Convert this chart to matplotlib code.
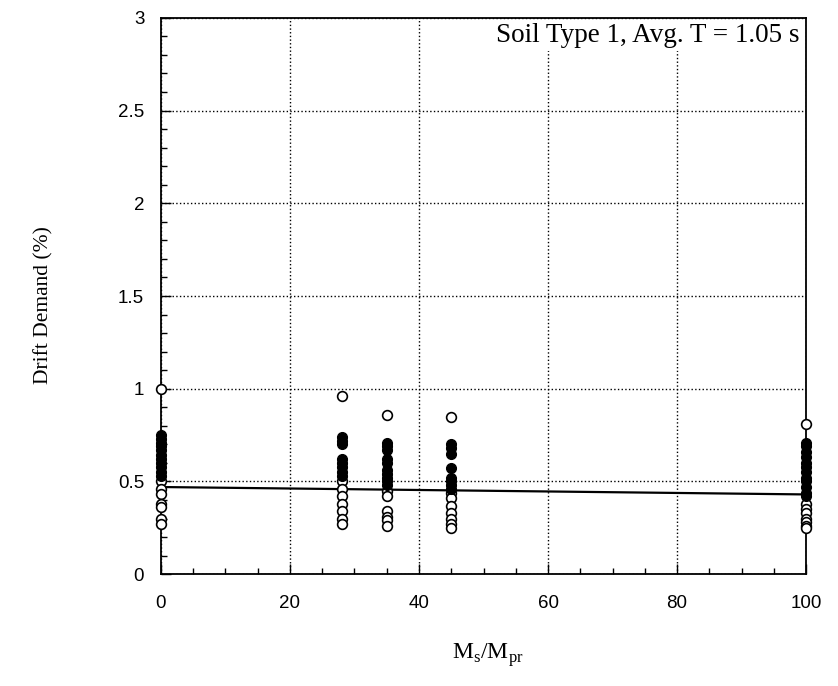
import numpy as np
import matplotlib.pyplot as plt

# M_s/M_pr levels and drift demands (%)
x_levels = [0, 28, 35, 45, 100]

open_y = [
    [1.00, 0.50, 0.46, 0.43, 0.38, 0.36, 0.30, 0.27],
    [0.96, 0.50, 0.46, 0.42, 0.38, 0.34, 0.30, 0.27],
    [0.86, 0.45, 0.42, 0.34, 0.31, 0.29, 0.26],
    [0.85, 0.44, 0.41, 0.37, 0.33, 0.30, 0.27, 0.25],
    [0.81, 0.38, 0.35, 0.33, 0.30, 0.28, 0.26, 0.25],
]
filled_y = [
    [0.75, 0.73, 0.71, 0.69, 0.67, 0.64, 0.62, 0.60, 0.58, 0.55, 0.53],
    [0.74, 0.72, 0.70, 0.62, 0.60, 0.58, 0.55, 0.53],
    [0.71, 0.69, 0.67, 0.62, 0.60, 0.56, 0.54, 0.52, 0.50, 0.48],
    [0.70, 0.68, 0.65, 0.57, 0.52, 0.50, 0.48, 0.46],
    [0.71, 0.69, 0.66, 0.63, 0.60, 0.58, 0.55, 0.52, 0.50, 0.47, 0.44, 0.42],
]

# regression line end points
fit_x = [0, 100]
fit_y = [0.47, 0.43]

fig = plt.figure(figsize=(8.38, 6.86), dpi=100)
ax = fig.add_axes([0.192, 0.163, 0.770, 0.811])

for x, ys in zip(x_levels, open_y):
    ax.plot([x] * len(ys), ys, 'o', mfc='white', mec='black', ms=7, mew=1.2,
            clip_on=False, zorder=3)
for x, ys in zip(x_levels, filled_y):
    ax.plot([x] * len(ys), ys, 'o', mfc='black', mec='black', ms=7,
            clip_on=False, zorder=4)

ax.plot(fit_x, fit_y, color='black', lw=1.6, zorder=2)

ax.set_xlim(0, 100)
ax.set_ylim(0, 3)
ax.set_xticks([0, 20, 40, 60, 80, 100])
ax.set_yticks([0, 0.5, 1, 1.5, 2, 2.5, 3])
ax.set_yticklabels(['0', '0.5', '1', '1.5', '2', '2.5', '3'])
ax.set_xticks(np.arange(0, 101, 5), minor=True)
ax.set_yticks(np.arange(0, 3.01, 0.1), minor=True)
ax.tick_params(direction='in', length=7, width=1, labelsize=13.5,
               top=False, right=False)
ax.tick_params(axis='y', pad=12)
ax.tick_params(axis='x', pad=15)
ax.tick_params(which='minor', direction='in', length=4, width=1)
for lab in ax.get_xticklabels() + ax.get_yticklabels():
    lab.set_family('Liberation Sans')

ax.grid(True, which='major', ls=':', color='black', lw=1)
for s in ax.spines.values():
    s.set_linewidth(1.3)

ax.text(0.99, 0.99, 'Soil Type 1, Avg. T = 1.05 s', transform=ax.transAxes,
        ha='right', va='top', fontsize=19.5, family='Liberation Serif',
        bbox=dict(facecolor='white', edgecolor='none', pad=2))

fig.text(0.052, 0.555, 'Drift Demand (%)', rotation=90, ha='center', va='center',
         fontsize=15.5, family='Liberation Serif')
fig.text(0.582, 0.045, r'M$_{\mathregular{s}}$/M$_{\mathregular{pr}}$',
         ha='center', va='center', fontsize=17, family='Liberation Serif')

fig.savefig('out.png', dpi=100)
